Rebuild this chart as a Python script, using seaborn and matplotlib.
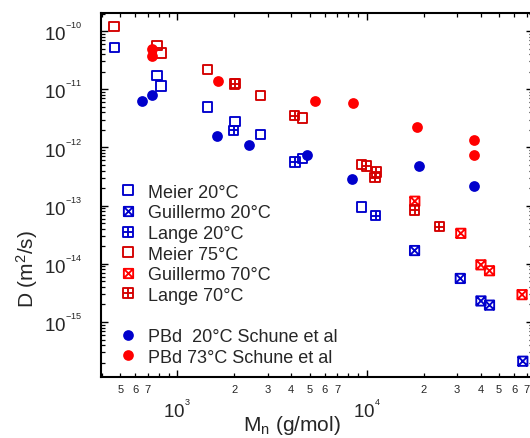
import numpy as np
import seaborn as sns
import matplotlib.pyplot as plt
from matplotlib.path import Path
from matplotlib.lines import Line2D
from matplotlib.ticker import LogLocator, FixedLocator, FuncFormatter, NullFormatter

sns.set_style("ticks")
plt.rcParams['font.family'] = ['Liberation Sans', 'DejaVu Sans']
plt.rcParams['mathtext.fontset'] = 'custom'
plt.rcParams['mathtext.rm'] = 'Liberation Sans'
plt.rcParams['mathtext.it'] = 'Liberation Sans:italic'
plt.rcParams['mathtext.bf'] = 'Liberation Sans:bold'
plt.rcParams['axes.unicode_minus'] = False

# Data (Mn in g/mol, D in m^2/s)
meier20_m = [466, 782, 822, 1446, 2020, 2760, 4580, 9420]
meier20_d = [5.2e-11, 1.72e-11, 1.13e-11, 4.93e-12, 2.8e-12, 1.66e-12, 6.45e-13, 9.5e-14]

guill20_m = [17900, 31200, 40100, 44500, 66700]
guill20_d = [1.69e-14, 5.6e-15, 2.3e-15, 1.95e-15, 2.12e-16]

lange20_m = [1990, 4180, 11170]
lange20_d = [1.96e-12, 5.6e-13, 6.7e-14]

meier75_m = [464, 782, 822, 1446, 2030, 2760, 4580, 9420]
meier75_d = [1.19e-10, 5.7e-11, 4.2e-11, 2.2e-11, 1.25e-11, 7.8e-12, 3.2e-12, 5.1e-13]

guill70_m = [17950, 31400, 40100, 44500, 66100]
guill70_d = [1.19e-13, 3.34e-14, 9.6e-15, 7.6e-15, 2.95e-15]

lange70_m = [2010, 4160, 9960, 11250, 11070, 17950, 24200]
lange70_d = [1.23e-11, 3.5e-12, 4.8e-13, 3.8e-13, 3.0e-13, 8.4e-14, 4.37e-14]

pbd20_m = [655, 740, 1630, 2380, 4820, 8400, 18900, 36700]
pbd20_d = [6.25e-12, 8.1e-12, 1.59e-12, 1.09e-12, 7.3e-13, 2.9e-13, 4.7e-13, 2.16e-13]

pbd73_m = [740, 740, 1650, 5330, 8440, 18500, 36700, 36700]
pbd73_d = [4.92e-11, 3.68e-11, 1.36e-11, 6.25e-12, 5.85e-12, 2.2e-12, 1.32e-12, 7.3e-13]

x_decades = [3, 4]
y_decades = [-15, -14, -13, -12, -11, -10]

blue = '#0000cc'
dred = '#d40000'
red = '#ff0000'

# marker shapes: open square, square with X, square with +
sq_v = [(-1, -1), (1, -1), (1, 1), (-1, 1), (-1, -1)]
sq_c = [Path.MOVETO, Path.LINETO, Path.LINETO, Path.LINETO, Path.CLOSEPOLY]
box = Path(sq_v, sq_c)
box_x = Path(sq_v + [(-1, -1), (1, 1), (-1, 1), (1, -1)],
             sq_c + [Path.MOVETO, Path.LINETO, Path.MOVETO, Path.LINETO])
box_p = Path(sq_v + [(0, -1), (0, 1), (-1, 0), (1, 0)],
             sq_c + [Path.MOVETO, Path.LINETO, Path.MOVETO, Path.LINETO])

squares = [
    ("Meier 20°C", meier20_m, meier20_d, box, blue),
    ("Guillermo 20°C", guill20_m, guill20_d, box_x, blue),
    ("Lange 20°C", lange20_m, lange20_d, box_p, blue),
    ("Meier 75°C", meier75_m, meier75_d, box, dred),
    ("Guillermo 70°C", guill70_m, guill70_d, box_x, red),
    ("Lange 70°C", lange70_m, lange70_d, box_p, dred),
]
circles = [
    ("PBd  20°C Schune et al", pbd20_m, pbd20_d, blue),
    ("PBd 73°C Schune et al", pbd73_m, pbd73_d, red),
]

fig = plt.figure(figsize=(5.3, 4.39), dpi=100)
ax = fig.add_axes([101 / 530, 61 / 439, 432 / 530, 364 / 439])
ax.set_xscale('log')
ax.set_yscale('log')

sq_ms = 6.7
for name, mx, dy, mk, col in squares:
    sns.scatterplot(x=mx, y=dy, marker=mk, s=sq_ms ** 2, facecolor='none',
                    edgecolor=col, linewidth=1.35, ax=ax, zorder=3)
for name, mx, dy, col in circles:
    sns.scatterplot(x=mx, y=dy, marker='o', s=60, color=col, edgecolor=col,
                    linewidth=0, ax=ax, zorder=4)

ax.set_xlim(396, 75500)
ax.set_ylim(1.135e-16, 2.04e-10)

# ticks
def major_lab(v, pos):
    e = int(round(np.log10(v)))
    return r'$\mathregular{10^{{}^{%d}}}$' % e


def minor_lab(v, pos):
    if v < 450 or v > 75000:
        return ''
    d = int(round(v / 10 ** np.floor(np.log10(v) + 1e-9)))
    return str(d) if d <= 7 else ''


ax.xaxis.set_major_locator(FixedLocator([10.0 ** e for e in x_decades]))
ax.xaxis.set_minor_locator(LogLocator(base=10, subs=np.arange(2, 10), numticks=30))
ax.xaxis.set_major_formatter(FuncFormatter(major_lab))
ax.xaxis.set_minor_formatter(FuncFormatter(minor_lab))
ax.yaxis.set_major_locator(FixedLocator([10.0 ** e for e in y_decades]))
ax.yaxis.set_major_formatter(FuncFormatter(major_lab))
ax.yaxis.set_minor_locator(LogLocator(base=10, subs=np.arange(2, 10), numticks=40))
ax.yaxis.set_minor_formatter(NullFormatter())

ax.tick_params(which='both', direction='in', top=True, right=True, color='black')
ax.tick_params(which='major', length=4.8, width=1.0)
ax.tick_params(which='minor', length=2.8, width=0.9)
ax.tick_params(axis='y', which='major', labelsize=13.5, pad=13.5)
ax.tick_params(axis='x', which='major', labelsize=13.5, pad=16)
ax.tick_params(axis='x', which='minor', labelsize=8, pad=5)

for sp in ax.spines.values():
    sp.set_linewidth(1.5)
    sp.set_color('black')

ax.set_xlabel(r'M$_{\mathregular{n}}$ (g/mol)', fontsize=15)
ax.set_ylabel(r'D (m$^{2}$/s)', fontsize=15)
ax.xaxis.set_label_coords(0.442, -0.10)
ax.yaxis.set_label_coords(-0.142, 0.30)

# legend
handles, labels = [], []
for name, mx, dy, mk, col in squares:
    handles.append(Line2D([], [], ls='none', marker=mk, ms=sq_ms, mfc='none', mec=col, mew=1.35))
    labels.append(name)
handles.append(Line2D([], [], ls='none'))
labels.append(' ')
for name, mx, dy, col in circles:
    handles.append(Line2D([], [], ls='none', marker='o', ms=7.7, mfc=col, mec=col, mew=0))
    labels.append(name)

ax.legend(handles, labels, loc='upper left', bbox_to_anchor=(0.042, 0.531),
          frameon=False, fontsize=13, handlelength=1.0, handletextpad=0.6,
          labelspacing=0.2, borderpad=0, borderaxespad=0)

fig.savefig('out.png', dpi=100)
